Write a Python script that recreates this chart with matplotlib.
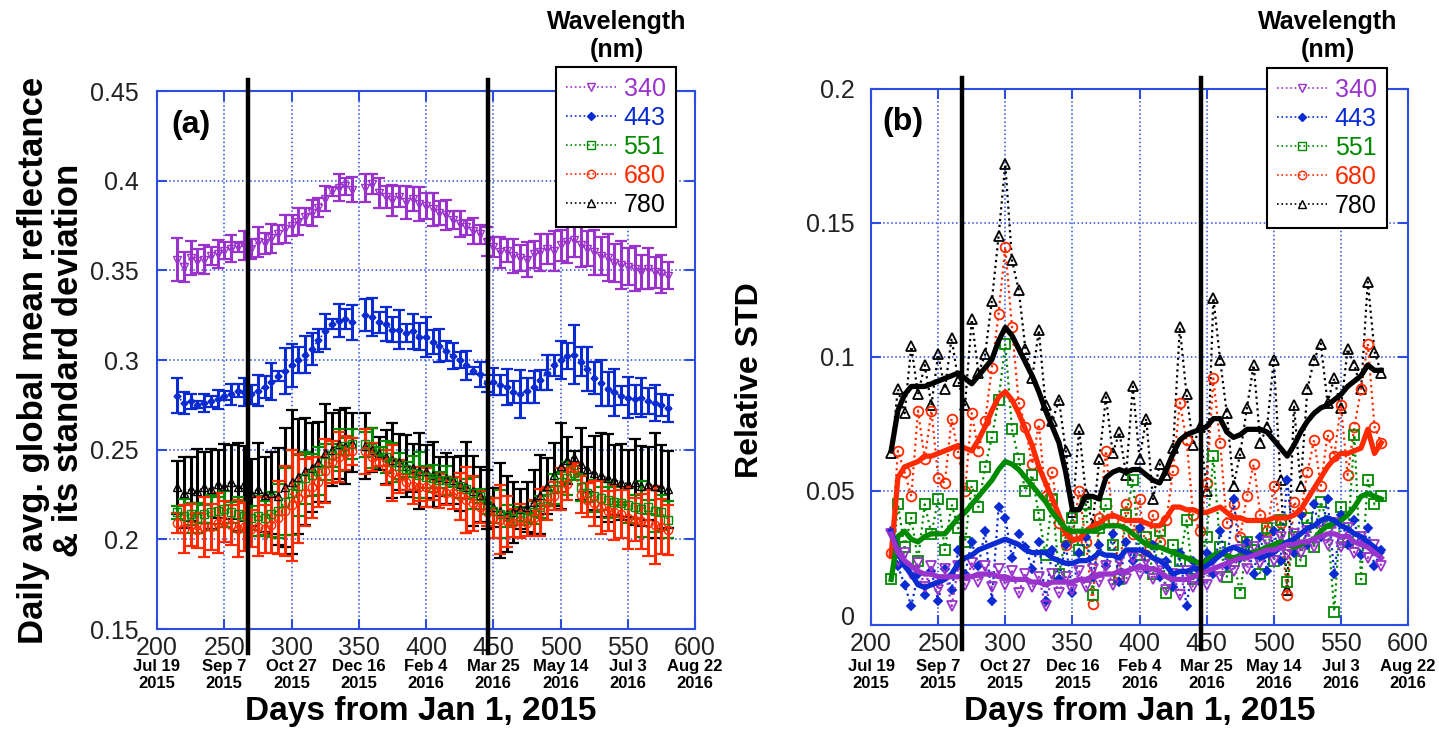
import numpy as np
import matplotlib
matplotlib.use("Agg")
import matplotlib.pyplot as plt
from matplotlib.lines import Line2D
from matplotlib.transforms import blended_transform_factory

plt.rcParams['font.family'] = ['Liberation Sans', 'DejaVu Sans']

# sampled days (every 5 days, days from Jan 1 2015)
days = np.arange(215, 581, 5)

wavelengths = ["340", "443", "551", "680", "780"]
tick_days = [200, 250, 300, 350, 400, 450, 500, 550, 600]
tick_dates = ["Jul 19\n2015", "Sep 7\n2015", "Oct 27\n2015", "Dec 16\n2015", "Feb 4\n2016",
              "Mar 25\n2016", "May 14\n2016", "Jul 3\n2016", "Aug 22\n2016"]
event_days = [268, 446]

nan = np.nan

# (a) daily global mean reflectance
mean_340 = [0.356, 0.352, 0.357, 0.355, 0.356, 0.358, 0.359, 0.361, 0.362, 0.363,
            0.364, 0.362, 0.366, 0.365, 0.368, 0.370, 0.373, 0.375, 0.377, 0.380,
            0.382, 0.385, 0.390, 0.394, 0.396, 0.397, 0.395, nan, 0.396, 0.398,
            0.393, 0.391, 0.389, 0.391, 0.388, 0.390, 0.387, 0.386, 0.384, 0.382,
            0.381, 0.378, 0.376, 0.374, 0.372, 0.370, 0.366, 0.363, 0.360, 0.361,
            0.358, 0.357, 0.356, 0.359, 0.360, 0.362, 0.361, 0.364, 0.366, 0.367,
            0.364, 0.362, 0.360, 0.358, 0.357, 0.354, 0.353, 0.352, 0.351, 0.349,
            0.351, 0.349, 0.348, 0.347]
mean_443 = [0.280, 0.276, 0.277, 0.275, 0.276, 0.277, 0.278, 0.280, 0.281, 0.283,
            0.282, 0.281, 0.283, 0.285, 0.288, 0.291, 0.294, 0.297, 0.300, 0.303,
            0.306, 0.311, 0.316, 0.320, 0.322, 0.323, 0.321, nan, 0.325, 0.324,
            0.321, 0.320, 0.317, 0.317, 0.315, 0.316, 0.313, 0.313, 0.310, 0.308,
            0.305, 0.302, 0.300, 0.297, 0.294, 0.292, 0.287, 0.288, 0.286, 0.285,
            0.282, 0.281, 0.283, 0.285, 0.289, 0.293, 0.297, 0.300, 0.302, 0.303,
            0.299, 0.295, 0.290, 0.287, 0.284, 0.282, 0.280, 0.279, 0.278, 0.279,
            0.277, 0.276, 0.275, 0.273]
mean_551 = [0.215, 0.213, 0.214, 0.212, 0.214, 0.215, 0.216, 0.217, 0.215, 0.214,
            0.213, 0.212, 0.213, 0.212, 0.214, 0.216, 0.221, 0.226, 0.230, 0.234,
            0.236, 0.238, 0.243, 0.247, 0.250, 0.252, 0.253, nan, 0.253, 0.251,
            0.249, 0.246, 0.243, 0.241, 0.239, 0.237, 0.236, 0.235, 0.234, 0.233,
            0.233, 0.232, 0.230, 0.228, 0.226, 0.224, 0.219, 0.216, 0.214, 0.213,
            0.212, 0.213, 0.212, 0.215, 0.218, 0.223, 0.228, 0.232, 0.234, 0.237,
            0.229, 0.226, 0.224, 0.223, 0.222, 0.221, 0.220, 0.219, 0.218, 0.217,
            0.218, 0.216, 0.215, 0.211]
mean_680 = [0.209, 0.206, 0.208, 0.205, 0.207, 0.207, 0.209, 0.210, 0.208, 0.206,
            0.207, 0.206, 0.207, 0.206, 0.208, 0.212, 0.216, 0.219, 0.223, 0.226,
            0.229, 0.232, 0.238, 0.243, 0.246, 0.248, 0.249, nan, 0.249, 0.246,
            0.243, 0.240, 0.237, 0.235, 0.232, 0.230, 0.229, 0.229, 0.228, 0.227,
            0.226, 0.226, 0.224, 0.222, 0.220, 0.218, 0.215, 0.212, 0.211, 0.210,
            0.209, 0.210, 0.209, 0.212, 0.215, 0.220, 0.224, 0.228, 0.231, 0.240,
            0.225, 0.222, 0.220, 0.218, 0.216, 0.215, 0.214, 0.212, 0.211, 0.210,
            0.209, 0.208, 0.207, 0.205]
mean_780 = [0.229, 0.226, 0.228, 0.227, 0.229, 0.228, 0.231, 0.230, 0.232, 0.229,
            0.231, 0.226, 0.228, 0.225, 0.226, 0.224, 0.229, 0.232, 0.235, 0.238,
            0.240, 0.243, 0.248, 0.250, 0.253, 0.252, 0.254, nan, 0.252, 0.250,
            0.248, 0.246, 0.244, 0.243, 0.241, 0.240, 0.238, 0.238, 0.236, 0.235,
            0.234, 0.233, 0.231, 0.229, 0.227, 0.225, 0.222, 0.218, 0.216, 0.214,
            0.215, 0.217, 0.218, 0.221, 0.225, 0.230, 0.236, 0.241, 0.244, 0.246,
            0.242, 0.239, 0.237, 0.236, 0.234, 0.233, 0.232, 0.231, 0.232, 0.230,
            0.231, 0.230, 0.229, 0.228]

# (b) relative standard deviation (daily)
rel_340 = [0.034, 0.024, 0.027, 0.019, 0.023, 0.014, 0.022, 0.013, 0.021, 0.007,
           0.022, 0.015, 0.023, 0.016, 0.022, 0.014, 0.021, 0.015, 0.020, 0.012,
           0.019, 0.014, 0.018, 0.007, 0.019, 0.012, 0.018, 0.013, 0.020, 0.014,
           0.021, 0.016, 0.022, 0.015, 0.024, 0.017, 0.025, 0.019, 0.024, 0.017,
           0.022, 0.013, 0.019, 0.011, 0.020, 0.014, 0.022, 0.015, 0.024, 0.018,
           0.026, 0.020, 0.028, 0.021, 0.029, 0.023, 0.031, 0.024, 0.033, 0.026,
           0.034, 0.027, 0.035, 0.029, 0.037, 0.030, 0.038, 0.029, 0.036, 0.027,
           0.033, 0.025, 0.030, 0.022]
rel_443 = [0.035, 0.022, 0.015, 0.007, 0.019, 0.011, 0.020, 0.009, 0.021, 0.013,
           0.028, 0.019, 0.031, 0.022, 0.035, 0.009, 0.044, 0.040, 0.025, 0.034,
           0.029, 0.021, 0.031, 0.009, 0.028, 0.017, 0.030, 0.012, 0.027, 0.033,
           0.018, 0.030, 0.022, 0.034, 0.016, 0.031, 0.024, 0.036, 0.021, 0.030,
           0.018, 0.024, 0.014, 0.027, 0.007, 0.024, 0.016, 0.027, 0.019, 0.035,
           0.022, 0.047, 0.025, 0.031, 0.019, 0.033, 0.020, 0.035, 0.024, 0.054,
           0.027, 0.041, 0.030, 0.045, 0.033, 0.047, 0.019, 0.041, 0.030, 0.039,
           0.026, 0.036, 0.022, 0.028]
rel_551 = [0.017, 0.045, 0.029, 0.040, 0.024, 0.045, 0.034, 0.047, 0.028, 0.045,
           0.036, 0.031, 0.052, 0.044, 0.059, 0.070, 0.084, 0.105, 0.073, 0.062,
           0.050, 0.056, 0.041, 0.026, 0.047, 0.019, 0.033, 0.040, 0.028, 0.045,
           0.011, 0.036, 0.045, 0.030, 0.017, 0.041, 0.054, 0.026, 0.033, 0.019,
           0.035, 0.012, 0.030, 0.024, 0.039, 0.017, 0.022, 0.033, 0.063, 0.029,
           0.018, 0.024, 0.012, 0.031, 0.028, 0.019, 0.036, 0.024, 0.039, 0.016,
           0.033, 0.024, 0.040, 0.029, 0.046, 0.038, 0.005, 0.044, 0.031, 0.071,
           0.017, 0.054, 0.045, 0.048]
rel_680 = [0.027, 0.065, 0.057, 0.048, 0.080, 0.062, 0.080, 0.055, 0.053, 0.077,
           0.064, 0.050, 0.079, 0.065, 0.076, 0.096, 0.116, 0.141, 0.111, 0.083,
           0.074, 0.060, 0.075, 0.048, 0.057, 0.038, 0.030, 0.033, 0.050, 0.031,
           0.008, 0.040, 0.065, 0.039, 0.019, 0.045, 0.034, 0.047, 0.026, 0.041,
           0.031, 0.039, 0.058, 0.083, 0.069, 0.041, 0.035, 0.053, 0.092, 0.068,
           0.038, 0.045, 0.033, 0.048, 0.060, 0.041, 0.035, 0.052, 0.038, 0.011,
           0.046, 0.042, 0.057, 0.069, 0.052, 0.071, 0.063, 0.082, 0.056, 0.074,
           0.088, 0.105, 0.074, 0.068]
rel_780 = [0.064, 0.088, 0.079, 0.104, 0.086, 0.097, 0.082, 0.101, 0.088, 0.107,
           0.091, 0.082, 0.114, 0.094, 0.101, 0.121, 0.145, 0.172, 0.136, 0.125,
           0.103, 0.092, 0.110, 0.082, 0.076, 0.084, 0.065, 0.042, 0.073, 0.049,
           0.037, 0.062, 0.085, 0.064, 0.072, 0.056, 0.089, 0.062, 0.077, 0.047,
           0.060, 0.056, 0.066, 0.111, 0.086, 0.067, 0.074, 0.050, 0.122, 0.099,
           0.079, 0.052, 0.064, 0.081, 0.097, 0.068, 0.074, 0.099, 0.054, 0.013,
           0.082, 0.052, 0.088, 0.099, 0.105, 0.083, 0.092, 0.081, 0.103, 0.097,
           0.088, 0.128, 0.102, 0.094]

# (b) smoothed relative STD (thick lines)
smooth_340 = [0.034, 0.027, 0.024, 0.022, 0.020, 0.019, 0.019, 0.018, 0.018, 0.018,
              0.018, 0.018, 0.018, 0.019, 0.019, 0.019, 0.018, 0.018, 0.017, 0.017,
              0.017, 0.016, 0.016, 0.015, 0.016, 0.016, 0.016, 0.016, 0.017, 0.017,
              0.018, 0.019, 0.019, 0.019, 0.020, 0.020, 0.021, 0.022, 0.021, 0.021,
              0.020, 0.018, 0.017, 0.017, 0.017, 0.018, 0.019, 0.020, 0.021, 0.022,
              0.023, 0.024, 0.025, 0.025, 0.026, 0.027, 0.028, 0.028, 0.029, 0.030,
              0.030, 0.031, 0.031, 0.032, 0.033, 0.034, 0.034, 0.033, 0.033, 0.031,
              0.030, 0.029, 0.027, 0.025]
smooth_443 = [0.035, 0.027, 0.022, 0.019, 0.015, 0.014, 0.015, 0.016, 0.017, 0.019,
              0.023, 0.025, 0.026, 0.028, 0.029, 0.030, 0.031, 0.032, 0.031, 0.030,
              0.028, 0.027, 0.027, 0.027, 0.025, 0.024, 0.023, 0.023, 0.024, 0.024,
              0.025, 0.027, 0.026, 0.026, 0.025, 0.028, 0.028, 0.028, 0.027, 0.025,
              0.024, 0.022, 0.019, 0.020, 0.020, 0.021, 0.021, 0.022, 0.024, 0.026,
              0.028, 0.029, 0.028, 0.027, 0.026, 0.025, 0.026, 0.027, 0.029, 0.031,
              0.032, 0.034, 0.036, 0.037, 0.039, 0.040, 0.039, 0.037, 0.036, 0.034,
              0.033, 0.031, 0.029, 0.027]
smooth_551 = [0.017, 0.033, 0.035, 0.032, 0.031, 0.033, 0.034, 0.034, 0.034, 0.037,
              0.040, 0.042, 0.045, 0.048, 0.051, 0.054, 0.058, 0.061, 0.060, 0.058,
              0.055, 0.052, 0.049, 0.046, 0.042, 0.039, 0.036, 0.035, 0.035, 0.035,
              0.035, 0.036, 0.037, 0.037, 0.037, 0.036, 0.034, 0.032, 0.030, 0.029,
              0.029, 0.028, 0.027, 0.026, 0.025, 0.024, 0.023, 0.024, 0.026, 0.027,
              0.026, 0.025, 0.026, 0.027, 0.027, 0.028, 0.029, 0.030, 0.031, 0.030,
              0.029, 0.030, 0.031, 0.032, 0.035, 0.037, 0.038, 0.039, 0.041, 0.044,
              0.048, 0.049, 0.048, 0.047]
smooth_680 = [0.026, 0.055, 0.059, 0.060, 0.061, 0.063, 0.063, 0.064, 0.065, 0.066,
              0.067, 0.066, 0.065, 0.069, 0.074, 0.080, 0.085, 0.087, 0.084, 0.079,
              0.073, 0.067, 0.059, 0.053, 0.047, 0.041, 0.034, 0.032, 0.032, 0.035,
              0.037, 0.038, 0.040, 0.041, 0.040, 0.039, 0.039, 0.039, 0.038, 0.037,
              0.037, 0.040, 0.044, 0.044, 0.043, 0.043, 0.042, 0.042, 0.043, 0.044,
              0.042, 0.040, 0.040, 0.039, 0.039, 0.039, 0.039, 0.040, 0.040, 0.040,
              0.041, 0.043, 0.047, 0.051, 0.055, 0.059, 0.062, 0.064, 0.064, 0.065,
              0.066, 0.073, 0.064, 0.068]
smooth_780 = [0.065, 0.080, 0.086, 0.089, 0.089, 0.089, 0.090, 0.091, 0.092, 0.093,
              0.094, 0.092, 0.090, 0.093, 0.096, 0.099, 0.106, 0.111, 0.108, 0.103,
              0.098, 0.093, 0.087, 0.080, 0.074, 0.068, 0.057, 0.043, 0.043, 0.048,
              0.048, 0.047, 0.055, 0.057, 0.058, 0.057, 0.058, 0.058, 0.056, 0.054,
              0.053, 0.058, 0.064, 0.069, 0.071, 0.072, 0.073, 0.074, 0.077, 0.077,
              0.072, 0.070, 0.071, 0.073, 0.073, 0.073, 0.072, 0.069, 0.066, 0.063,
              0.067, 0.072, 0.076, 0.079, 0.081, 0.082, 0.084, 0.086, 0.089, 0.091,
              0.093, 0.097, 0.095, 0.095]

colors = ['#9933cc', '#0a2bd2', '#008a00', '#ff2a00', '#000000']
markers = ['v', 'D', 's', 'o', '^']
axis_blue = '#2b4de0'

means = [mean_340, mean_443, mean_551, mean_680, mean_780]
rels = [rel_340, rel_443, rel_551, rel_680, rel_780]
smooths = [smooth_340, smooth_443, smooth_551, smooth_680, smooth_780]

fig = plt.figure(figsize=(14.39, 7.37), dpi=100)
ax_a = fig.add_axes([0.1091, 0.1465, 0.3739, 0.7300])
ax_b = fig.add_axes([0.6053, 0.1520, 0.3732, 0.7273])


def style_axes(ax, yticks, ylabels, ypad):
    ax.set_xlim(200, 600)
    ax.set_xticks(tick_days)
    ax.set_xticklabels([str(d) for d in tick_days])
    ax.set_ylim(yticks[0], yticks[-1])
    ax.set_yticks(yticks)
    ax.set_yticklabels(ylabels)
    for s in ax.spines.values():
        s.set_color(axis_blue)
        s.set_linewidth(1.5)
    ax.tick_params(direction='in', length=7, width=1.5, color=axis_blue,
                   top=True, right=True, labelsize=18, labelcolor='#222222')
    ax.tick_params(axis='x', pad=5)
    ax.tick_params(axis='y', pad=ypad)
    ax.grid(True, ls=':', color=axis_blue, lw=1.1)
    ax.set_axisbelow(True)
    trans = blended_transform_factory(ax.transData, fig.transFigure)
    for d, lab in zip(tick_days, tick_dates):
        ax.text(d, 0.106, lab, transform=trans, ha='center', va='top',
                fontsize=12, fontweight='bold', clip_on=False)
    for d in event_days:
        ax.axvline(d, ymin=-0.045, ymax=1.02, color='black', lw=3.2,
                   clip_on=False, zorder=6)


# ---- panel (a)
order_a = [0, 1, 4, 2, 3]
for i in order_a:
    m = np.array(means[i], dtype=float)
    err = np.array(rels[i]) * m
    filled = colors[i] if markers[i] == 'D' else 'none'
    ax_a.errorbar(days, m, yerr=err, fmt=':', marker=markers[i], color=colors[i],
                  mfc=filled, ms=3.5 if markers[i] == 'D' else 6, lw=1.2,
                  elinewidth=2.2, capsize=4.5, capthick=1.6, zorder=3)

style_axes(ax_a, [0.15, 0.2, 0.25, 0.3, 0.35, 0.4, 0.45],
           ["0.15", "0.2", "0.25", "0.3", "0.35", "0.4", "0.45"], 13)
ax_a.text(0.063, 0.937, "(a)", transform=ax_a.transAxes, fontsize=23,
          fontweight='bold', ha='center', va='center')

# ---- panel (b)
for i in [4, 3, 2, 1, 0]:
    filled = colors[i] if markers[i] == 'D' else 'none'
    ax_b.plot(days, rels[i], ls=':', marker=markers[i], color=colors[i], mfc=filled,
              ms=7 if markers[i] != 'D' else 4.5, mew=1.3, lw=1.6, zorder=3)
for i in [4, 3, 2, 1, 0]:
    ax_b.plot(days, smooths[i], color=colors[i], lw=3.8, zorder=4)

style_axes(ax_b, [0, 0.05, 0.1, 0.15, 0.2], ["0", "0.05", "0.1", "0.15", "0.2"], 11.5)
ax_b.get_yticklabels()[0].set_verticalalignment('baseline')
ax_b.text(0.06, 0.938, "(b)", transform=ax_b.transAxes, fontsize=23,
          fontweight='bold', ha='center', va='center')

# ---- legends
handles = []
for i in range(5):
    filled = colors[i] if markers[i] == 'D' else 'none'
    handles.append(Line2D([], [], ls=':', lw=1.2, color=colors[i], marker=markers[i],
                          mfc=filled, ms=6 if markers[i] != 'D' else 4))
for ax, anchor, tx in [(ax_a, (0.7416, 1.0446), 0.4288), (ax_b, (0.7374, 1.039), 0.9229)]:
    leg = ax.legend(handles, wavelengths, loc='upper left', bbox_to_anchor=anchor,
                    frameon=True, fancybox=False, edgecolor='black', framealpha=1,
                    fontsize=18, handlelength=2.0, handletextpad=0.3, labelspacing=0.2,
                    borderpad=0.4, borderaxespad=0, labelcolor=colors)
    leg.get_frame().set_linewidth(1.5)
    leg.set_zorder(10)
    fig.text(tx, 0.951, "Wavelength\n(nm)", ha='center', va='center', fontsize=18,
             fontweight='bold')

# ---- axis labels
fig.text(0.292, 0.034, "Days from Jan 1, 2015", ha='center', va='center',
         fontsize=24, fontweight='bold')
fig.text(0.792, 0.034, "Days from Jan 1, 2015", ha='center', va='center',
         fontsize=24, fontweight='bold')
fig.text(0.0354, 0.511, "Daily avg. global mean reflectance\n& its standard deviation",
         rotation=90, ha='center', va='center', fontsize=25, fontweight='bold',
         linespacing=1.05)
fig.text(0.521, 0.484, "Relative STD", rotation=90, ha='center', va='center',
         fontsize=23, fontweight='bold')

fig.savefig("out.png", dpi=100)
